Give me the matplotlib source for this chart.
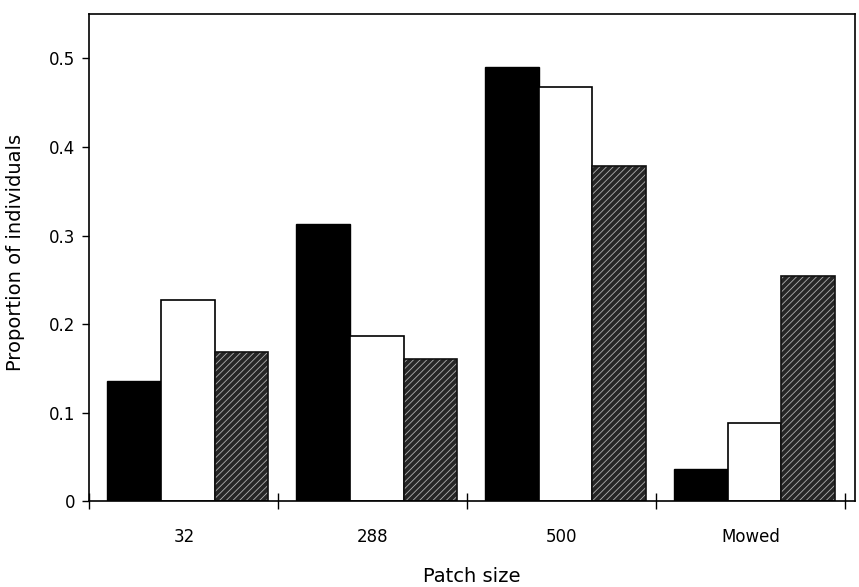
import matplotlib.pyplot as plt
import numpy as np

# patch size groups and the three series (black, white, hatched)
patches = ["32", "288", "500", "Mowed"]
black_vals = [0.136, 0.313, 0.490, 0.037]
white_vals = [0.227, 0.187, 0.468, 0.088]
hatch_vals = [0.169, 0.161, 0.379, 0.254]
y_ticks = [0, 0.1, 0.2, 0.3, 0.4, 0.5]
y_tick_labels = ["0", "0.1", "0.2", "0.3", "0.4", "0.5"]

plt.rcParams["font.family"] = ["DejaVu Sans"]
plt.rcParams["hatch.linewidth"] = 0.6

fig = plt.figure(figsize=(8.59, 5.87), dpi=100)
ax = fig.add_axes([0.104, 0.146, 0.891, 0.83])

x = np.arange(len(patches))
width = 0.285
shift = 0.02

# solid black bars
ax.bar(x - width + shift, black_vals, width, color="black", edgecolor="black", linewidth=1)

# white bars with black outline
ax.bar(x + shift, white_vals, width, color="white", edgecolor="black", linewidth=1.2)

# dark hatched bars: fill with light hatch, then outline on top
ax.bar(x + width + shift, hatch_vals, width, color="#262626", edgecolor="#b0b0b0",
       hatch="/////", linewidth=0)
ax.bar(x + width + shift, hatch_vals, width, fill=False, edgecolor="#111111", linewidth=1.2)

# axes limits and ticks
ax.set_xlim(-0.5, 3.55)
ax.set_ylim(0, 0.55)
ax.set_yticks(y_ticks)
ax.set_yticklabels(y_tick_labels, fontsize=12)
ax.set_xticks(np.arange(len(patches) + 1) - 0.5)
ax.set_xticklabels([])
ax.tick_params(axis="x", direction="inout", length=12, width=1)
ax.tick_params(axis="y", direction="out", length=5, width=1, pad=5)

# category labels sit between the tick marks
for i, name in enumerate(patches):
    ax.text(i, -0.04, name, ha="center", va="center", fontsize=12, transform=ax.transData)

for spine in ax.spines.values():
    spine.set_linewidth(1.2)

ax.set_xlabel("Patch size", fontsize=14, labelpad=38)
ax.set_ylabel("Proportion of individuals", fontsize=14)
ax.yaxis.set_label_coords(-0.084, 0.51)

plt.savefig("out.png", dpi=100)
